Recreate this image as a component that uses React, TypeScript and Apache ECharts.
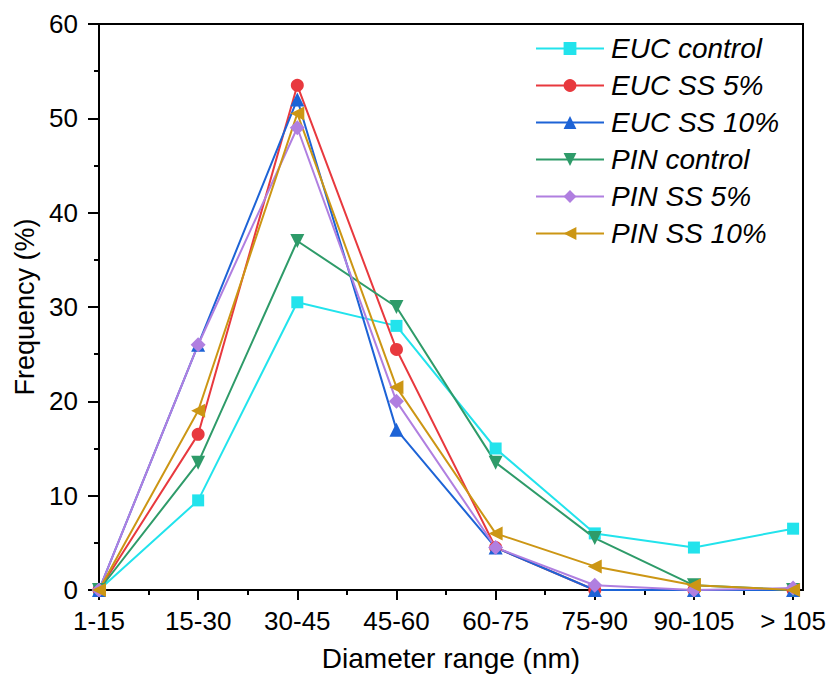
import React, { useEffect, useRef } from "react";
import * as echarts from "echarts";

const categories = ["1-15", "15-30", "30-45", "45-60", "60-75", "75-90", "90-105", "> 105"];

const eucControl = [0, 9.5, 30.5, 28, 15, 6, 4.5, 6.5];
const eucSS5 = [0, 16.5, 53.5, 25.5, 4.5, 0, 0, 0];
const eucSS10 = [0, 26, 52, 17, 4.5, 0, 0, 0];
const pinControl = [0, 13.5, 37, 30, 13.5, 5.5, 0.5, 0];
const pinSS5 = [0, 26, 49, 20, 4.5, 0.5, 0, 0.2];
const pinSS10 = [0, 19, 50.5, 21.5, 6, 2.5, 0.5, 0];

const yTicks = [0, 10, 20, 30, 40, 50, 60];

const FONT = "'Liberation Sans', Arial, sans-serif";

const seriesDefs = [
  { name: "EUC control", data: eucControl, color: "#22E3EC", symbol: "rect", size: 12, rotate: 0 },
  { name: "EUC SS 5%", data: eucSS5, color: "#E8393E", symbol: "circle", size: 13, rotate: 0 },
  { name: "EUC SS 10%", data: eucSS10, color: "#1D63D6", symbol: "triangle", size: 14, rotate: 0 },
  { name: "PIN control", data: pinControl, color: "#2E9B69", symbol: "triangle", size: 14, rotate: 180 },
  { name: "PIN SS 5%", data: pinSS5, color: "#B07FE0", symbol: "diamond", size: 15, rotate: 0 },
  { name: "PIN SS 10%", data: pinSS10, color: "#CC9614", symbol: "triangle", size: 14, rotate: 90 },
];

export default function App() {
  const ref = useRef<HTMLDivElement>(null);

  useEffect(() => {
    if (!ref.current) return;
    const chart = echarts.init(ref.current, null, { renderer: "svg" });
    const catIdx = categories.map((_, i) => i);
    const halfIdx = categories.slice(1).map((_, i) => i + 0.5);

    chart.setOption({
      animation: false,
      backgroundColor: "#fff",
      textStyle: { fontFamily: FONT },
      grid: {
        left: 99,
        top: 24,
        width: 704,
        height: 567,
        show: true,
        borderColor: "#000",
        borderWidth: 2,
        backgroundColor: "transparent",
      },
      legend: {
        orient: "vertical",
        left: 530,
        top: 28,
        itemWidth: 68,
        itemHeight: 16,
        itemGap: 6,
        textStyle: {
          fontFamily: FONT,
          fontSize: 28,
          fontStyle: "italic",
          color: "#000",
          lineHeight: 31,
          padding: [0, 0, 0, 2],
        },
        data: seriesDefs.map((s) => s.name),
      },
      xAxis: [
        {
          type: "value",
          min: 0,
          max: 7.1,
          position: "bottom",
          splitLine: { show: false },
          axisLine: { show: true, onZero: false, lineStyle: { color: "#000", width: 2 } },
          axisTick: {
            show: true,
            length: 10,
            customValues: catIdx,
            lineStyle: { color: "#000", width: 2 },
          },
          axisLabel: {
            customValues: catIdx,
            formatter: (v: number) => categories[Math.round(v)] ?? "",
            fontSize: 26,
            color: "#000",
            margin: 18,
            fontFamily: FONT,
          },
          name: "Diameter range (nm)",
          nameLocation: "middle",
          nameGap: 54,
          nameTextStyle: { fontSize: 28, color: "#000", fontFamily: FONT },
        },
        {
          type: "value",
          min: 0,
          max: 7.1,
          position: "bottom",
          splitLine: { show: false },
          axisLine: { show: false, onZero: false },
          axisTick: {
            show: true,
            length: 5,
            customValues: halfIdx,
            lineStyle: { color: "#000", width: 2 },
          },
          axisLabel: { show: false },
        },
      ],
      yAxis: {
        type: "value",
        min: 0,
        max: 60,
        interval: 10,
        splitLine: { show: false },
        axisLine: { show: true, lineStyle: { color: "#000", width: 2 } },
        axisTick: { show: true, length: 11, lineStyle: { color: "#000", width: 2 } },
        minorTick: { show: true, splitNumber: 2, length: 5, lineStyle: { color: "#000", width: 2 } },
        axisLabel: {
          customValues: yTicks,
          fontSize: 26,
          color: "#000",
          margin: 21,
          fontFamily: FONT,
        },
        name: "Frequency (%)",
        nameLocation: "middle",
        nameGap: 54,
        nameTextStyle: { fontSize: 27, color: "#000", fontFamily: FONT },
      },
      series: seriesDefs.map((s) => ({
        name: s.name,
        type: "line",
        xAxisIndex: 0,
        data: s.data.map((v, i) => [i, v]),
        symbol: s.symbol,
        symbolSize: s.size,
        symbolRotate: s.rotate,
        clip: false,
        color: s.color,
        itemStyle: { color: s.color },
        lineStyle: { color: s.color, width: 2 },
      })),
    });

    return () => chart.dispose();
  }, []);

  return (
    <div
      ref={ref}
      style={{ position: "fixed", left: 0, top: 0, width: 833, height: 677, background: "#fff" }}
    />
  );
}
